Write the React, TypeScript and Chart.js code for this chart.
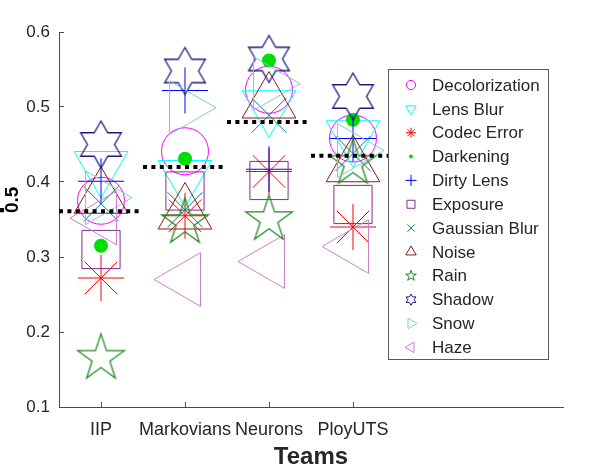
import React, { useEffect, useRef } from 'react';
import { Chart, registerables } from 'chart.js';

Chart.register(...registerables);

// ---------------- data ----------------
const teams = ['IIP', 'Markovians', 'Neurons', 'PloyUTS'];
const yTickValues = [0.1, 0.2, 0.3, 0.4, 0.5, 0.6];

const decolorization = [0.375, 0.441, 0.523, 0.458];
const lensBlur = [0.42, 0.408, 0.501, 0.461];
const codecError = [0.272, 0.355, 0.414, 0.34];
const darkening = [0.315, 0.431, 0.562, 0.483];
const dirtyLens = [0.401, 0.522, 0.417, 0.458];
const exposure = [0.31, 0.388, 0.402, 0.37];
const gaussianBlur = [0.371, 0.363, 0.489, 0.438];
const noise = [0.379, 0.358, 0.506, 0.421];
const rain = [0.165, 0.346, 0.35, 0.425];
const shadow = [0.45, 0.548, 0.564, 0.514];
const snow = [0.379, 0.499, 0.531, 0.442];
const haze = [0.352, 0.27, 0.294, 0.314];

const teamMeans = [0.361, 0.42, 0.48, 0.435];

const seriesNames = [
  'Decolorization', 'Lens Blur', 'Codec Error', 'Darkening', 'Dirty Lens', 'Exposure',
  'Gaussian Blur', 'Noise', 'Rain', 'Shadow', 'Snow', 'Haze',
];
const seriesValues = [
  decolorization, lensBlur, codecError, darkening, dirtyLens, exposure,
  gaussianBlur, noise, rain, shadow, snow, haze,
];

// ---------------- styles ----------------
type Marker =
  | 'circle' | 'triDown' | 'asterisk' | 'dot' | 'plus' | 'square'
  | 'x' | 'triUp' | 'pentagram' | 'hexagram' | 'triRight' | 'triLeft';

const seriesColors = [
  '#FF00FF', '#00FFFF', '#FF0000', '#00DD00', '#0000FF', '#7E2F8E',
  '#008080', '#8B1A1A', '#228B22', '#1A1A80', '#80CCCC', '#CC80CC',
];
const seriesMarkers: Marker[] = [
  'circle', 'triDown', 'asterisk', 'dot', 'plus', 'square',
  'x', 'triUp', 'pentagram', 'hexagram', 'triRight', 'triLeft',
];

const FONT = "'Liberation Sans', Arial, Helvetica, sans-serif";
const TEXT = '#262626';
const AXIS = '#4a4a4a';

// plot-size radii (Chart.js radius semantics)
const plotRadius: Record<Marker, number> = {
  circle: 23.5, triDown: 31, asterisk: 23, dot: 7, plus: 23, square: 27,
  x: 24.7, triUp: 31, pentagram: 24.4, hexagram: 23.5, triRight: 31, triLeft: 31,
};
// legend-size radii (own drawing semantics)
const legendRadius: Record<Marker, number> = {
  circle: 4.6, triDown: 6, asterisk: 5, dot: 2, plus: 5.5, square: 4,
  x: 3.6, triUp: 6, pentagram: 5.6, hexagram: 5.6, triRight: 6, triLeft: 6,
};

function starPath(ctx: CanvasRenderingContext2D, x: number, y: number, r: number, n: number, inner: number) {
  for (let k = 0; k < 2 * n; k++) {
    const a = -Math.PI / 2 + (k * Math.PI) / n;
    const rr = k % 2 === 0 ? r : r * inner;
    const px = x + Math.cos(a) * rr;
    const py = y + Math.sin(a) * rr;
    if (k === 0) ctx.moveTo(px, py);
    else ctx.lineTo(px, py);
  }
  ctx.closePath();
}

function triPath(ctx: CanvasRenderingContext2D, x: number, y: number, r: number, deg: number) {
  let rad = (deg * Math.PI) / 180;
  for (let k = 0; k < 3; k++) {
    const px = x + Math.sin(rad) * r;
    const py = y - Math.cos(rad) * r;
    if (k === 0) ctx.moveTo(px, py);
    else ctx.lineTo(px, py);
    rad += (2 * Math.PI) / 3;
  }
  ctx.closePath();
}

function drawMarker(ctx: CanvasRenderingContext2D, m: Marker, x: number, y: number, r: number, color: string, lw = 1) {
  ctx.save();
  ctx.strokeStyle = color;
  ctx.fillStyle = color;
  ctx.lineWidth = lw;
  ctx.beginPath();
  const d = r * Math.SQRT1_2;
  switch (m) {
    case 'circle': ctx.arc(x, y, r, 0, Math.PI * 2); break;
    case 'dot': ctx.arc(x, y, r, 0, Math.PI * 2); ctx.fill(); ctx.restore(); return;
    case 'triUp': triPath(ctx, x, y, r, 0); break;
    case 'triDown': triPath(ctx, x, y, r, 180); break;
    case 'triRight': triPath(ctx, x, y, r, 90); break;
    case 'triLeft': triPath(ctx, x, y, r, 270); break;
    case 'square': ctx.rect(x - r, y - r, 2 * r, 2 * r); break;
    case 'plus':
      ctx.moveTo(x - r, y); ctx.lineTo(x + r, y); ctx.moveTo(x, y - r); ctx.lineTo(x, y + r); break;
    case 'x':
      ctx.moveTo(x - r, y - r); ctx.lineTo(x + r, y + r); ctx.moveTo(x + r, y - r); ctx.lineTo(x - r, y + r); break;
    case 'asterisk':
      ctx.moveTo(x - r, y); ctx.lineTo(x + r, y); ctx.moveTo(x, y - r); ctx.lineTo(x, y + r);
      ctx.moveTo(x - d, y - d); ctx.lineTo(x + d, y + d); ctx.moveTo(x + d, y - d); ctx.lineTo(x - d, y + d); break;
    case 'pentagram': starPath(ctx, x, y, r, 5, 0.382); break;
    case 'hexagram': starPath(ctx, x, y, r, 6, 0.577); break;
  }
  ctx.stroke();
  ctx.restore();
}

function markerCanvas(m: Marker, r: number, color: string): HTMLCanvasElement {
  const size = Math.ceil(2 * r + 4);
  const c = document.createElement('canvas');
  c.width = size;
  c.height = size;
  const ctx = c.getContext('2d')!;
  drawMarker(ctx, m, size / 2, size / 2, r, color, 1.3);
  return c;
}

function chartStyle(m: Marker, color: string): { style: any; rotation: number } {
  switch (m) {
    case 'circle': return { style: 'circle', rotation: 0 };
    case 'dot': return { style: 'circle', rotation: 0 };
    case 'triUp': return { style: 'triangle', rotation: 0 };
    case 'triDown': return { style: 'triangle', rotation: 180 };
    case 'triRight': return { style: 'triangle', rotation: 90 };
    case 'triLeft': return { style: 'triangle', rotation: 270 };
    case 'square': return { style: 'rect', rotation: 0 };
    case 'plus': return { style: 'cross', rotation: 0 };
    case 'x': return { style: 'crossRot', rotation: 0 };
    case 'asterisk': return { style: 'star', rotation: 0 };
    default: return { style: markerCanvas(m, plotRadius[m], color), rotation: 0 };
  }
}

// ---------------- plugins ----------------
const legendPlugin = {
  id: 'boxLegend',
  afterDraw(chart: any) {
    const ctx: CanvasRenderingContext2D = chart.ctx;
    const left = 388.5, top = 69.5, w = 160, h = 290;
    ctx.save();
    ctx.fillStyle = '#ffffff';
    ctx.fillRect(left, top, w, h);
    ctx.strokeStyle = '#5a5a5a';
    ctx.lineWidth = 1;
    ctx.strokeRect(left, top, w, h);
    ctx.font = `17px ${FONT}`;
    ctx.textBaseline = 'middle';
    ctx.textAlign = 'left';
    seriesNames.forEach((name, i) => {
      const y = 85 + i * 23.85;
      drawMarker(ctx, seriesMarkers[i], 411, y, legendRadius[seriesMarkers[i]], seriesColors[i]);
      ctx.fillStyle = TEXT;
      ctx.fillText(name, 432, y + 1);
    });
    ctx.restore();
  },
};

const yTitlePlugin = {
  id: 'yTitle',
  afterDraw(chart: any) {
    const ctx: CanvasRenderingContext2D = chart.ctx;
    ctx.save();
    ctx.fillStyle = '#000';
    ctx.textBaseline = 'alphabetic';
    ctx.textAlign = 'left';
    ctx.translate(4, 214);
    ctx.rotate(-Math.PI / 2);
    ctx.font = `bold 28px ${FONT}`;
    ctx.fillText('F', 0, 0);
    ctx.restore();
    ctx.save();
    ctx.fillStyle = '#000';
    ctx.textBaseline = 'alphabetic';
    ctx.textAlign = 'left';
    ctx.translate(18, 213);
    ctx.rotate(-Math.PI / 2);
    ctx.font = `bold 19px ${FONT}`;
    ctx.fillText('0.5', 0, 0);
    ctx.restore();
  },
};

export default function App() {
  const ref = useRef<HTMLCanvasElement>(null);

  useEffect(() => {
    if (!ref.current) return;

    const meanSets = teamMeans.map((m, i) => ({
      type: 'line' as const,
      label: `mean ${teams[i]}`,
      data: [{ x: i + 0.5, y: m }, { x: i + 1.5, y: m }],
      borderColor: '#000000',
      borderWidth: 4,
      borderDash: [4, 4.4],
      borderCapStyle: 'butt' as const,
      pointRadius: 0,
      showLine: true,
      fill: false,
      order: 0,
    }));

    const markerSets = seriesNames.map((name, i) => {
      const m = seriesMarkers[i];
      const color = seriesColors[i];
      const { style, rotation } = chartStyle(m, color);
      return {
        type: 'scatter' as const,
        label: name,
        data: seriesValues[i].map((v, j) => ({ x: j + 1, y: v })),
        pointStyle: style,
        pointRotation: rotation,
        pointRadius: plotRadius[m],
        pointHoverRadius: plotRadius[m],
        pointBorderColor: color,
        pointBackgroundColor: m === 'dot' ? color : 'rgba(0,0,0,0)',
        pointBorderWidth: m === 'dot' ? 0 : 1,
        showLine: false,
        order: 100 - i,
      };
    });

    const chart = new Chart(ref.current, {
      type: 'scatter',
      data: { datasets: [...meanSets, ...markerSets] as any },
      options: {
        responsive: false,
        animation: false,
        events: [],
        layout: { padding: { left: 0, top: 20, right: 35, bottom: 0 } },
        plugins: { legend: { display: false }, tooltip: { enabled: false } },
        scales: {
          x: {
            type: 'linear',
            min: 0.5,
            max: 6.5,
            afterBuildTicks: (s: any) => {
              s.ticks = teams.map((_, i) => ({ value: i + 1 }));
            },
            afterFit: (s: any) => {
              s.height = 63;
            },
            ticks: {
              autoSkip: false,
              maxRotation: 0,
              padding: 17,
              color: TEXT,
              font: { family: FONT, size: 18 },
              callback: (v: any) => teams[Math.round(Number(v)) - 1] ?? '',
            },
            grid: { drawOnChartArea: false, tickLength: -5, color: AXIS, tickColor: AXIS },
            border: { display: true, color: AXIS, width: 1 },
            title: {
              display: true,
              text: 'Teams',
              color: TEXT,
              font: { family: FONT, size: 24, weight: 'bold', lineHeight: 1 },
              padding: { top: 0, bottom: 1 },
            },
          },
          y: {
            type: 'linear',
            min: 0.1,
            max: 0.6,
            afterBuildTicks: (s: any) => {
              s.ticks = yTickValues.map((v) => ({ value: v }));
            },
            afterFit: (s: any) => {
              s.width = 59;
            },
            ticks: {
              padding: 14,
              color: TEXT,
              font: { family: FONT, size: 17 },
              callback: (v: any) => Number(v).toFixed(1),
            },
            grid: { drawOnChartArea: false, tickLength: -5, color: AXIS, tickColor: AXIS },
            border: { display: true, color: AXIS, width: 1 },
          },
        },
      } as any,
      plugins: [legendPlugin, yTitlePlugin],
    });

    return () => chart.destroy();
  }, []);

  return (
    <div style={{ position: 'fixed', left: 0, top: 0, width: 598, height: 470, background: '#fff' }}>
      <canvas ref={ref} width={598} height={470} style={{ display: 'block' }} />
    </div>
  );
}
